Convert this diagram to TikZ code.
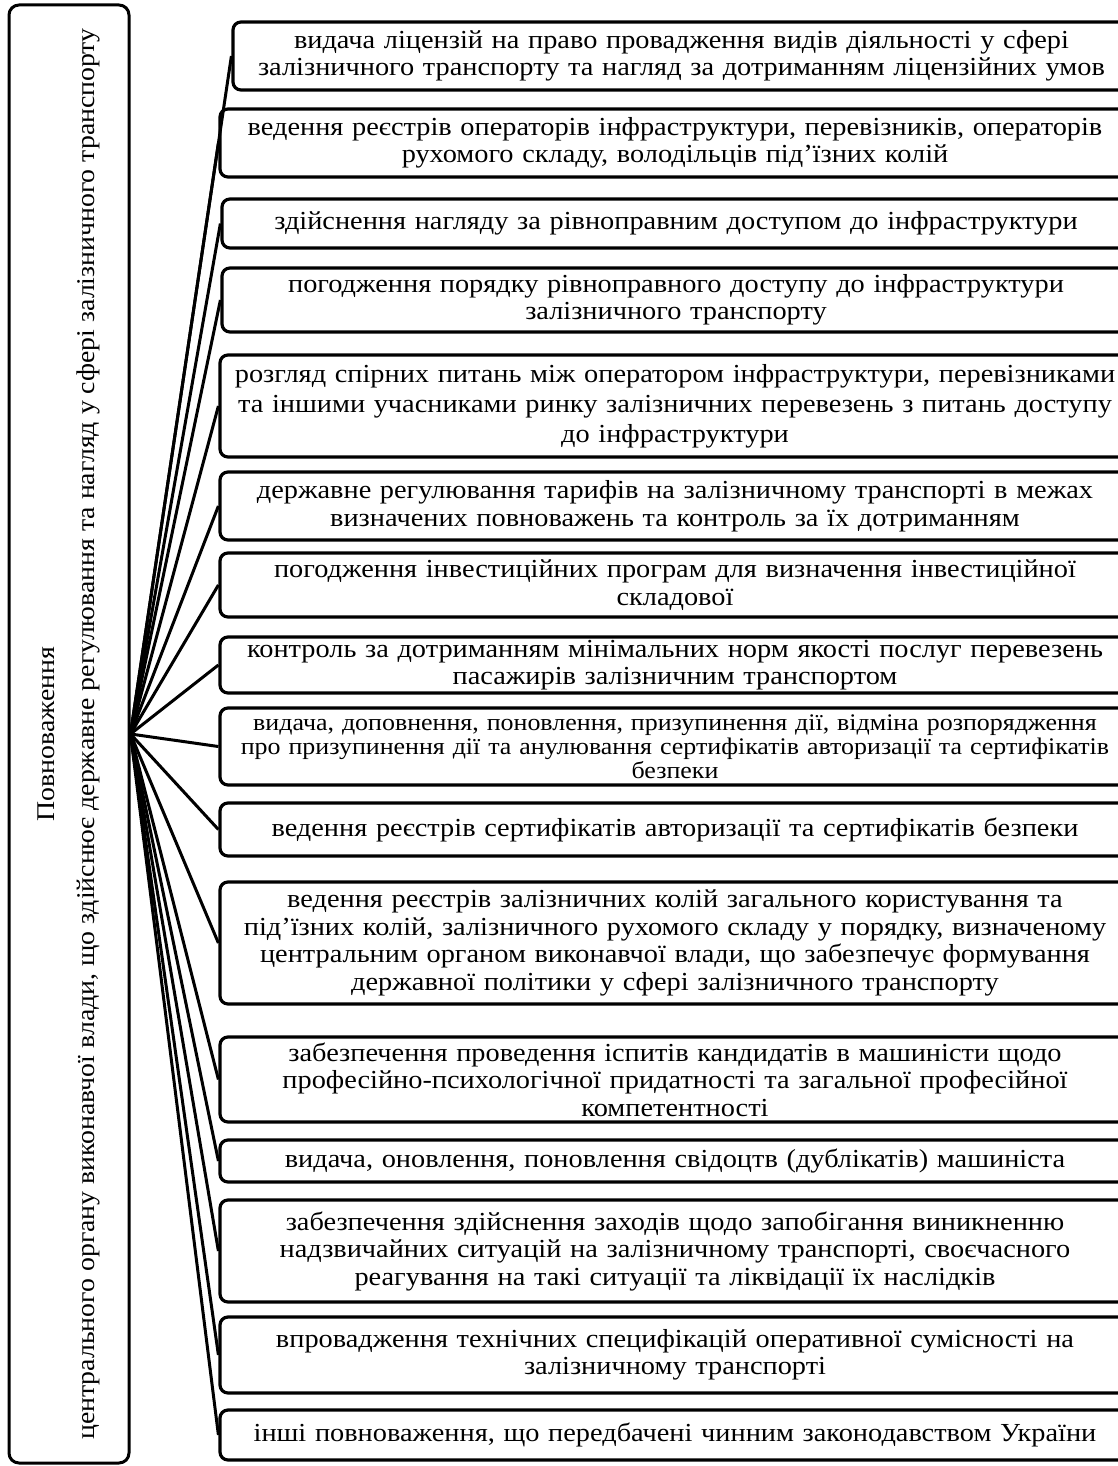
\documentclass[tikz,border=0pt]{standalone}
\usepackage{fontspec}
\setmainfont[FakeStretch=1.09]{Liberation Serif}
\begin{document}
\begin{tikzpicture}[x=1pt,y=-1pt,
  box/.style={draw=black, line width=3.2pt, rounded corners=8pt, align=center,
    inner sep=0pt, font=\fontsize{26}{27.5}\selectfont},
  link/.style={line width=3pt}]
\useasboundingbox (0,0) rectangle (1118,1466);
% left box
\node[draw, line width=3pt, rounded corners=10pt, minimum width=1458pt, minimum height=120pt,
  rotate=90, align=center, inner sep=0pt, font=\fontsize{25.5}{28}\selectfont] (L) at (69,734)
  {Повноваження\\[12pt]центрального органу виконавчої влади, що здійснює державне регулювання та нагляд у сфері залізничного транспорту};
% right boxes: left edge, top, bottom ; right edge 1130
\newcommand{\rbox}[5][]{%
  \node[box, minimum width={1130-#2}, minimum height={#4-#3}, text width={1130-#2-4}, #1]
    (#5) at ({(#2+1130)/2},{(#3+#4)/2})}
\rbox{233}{22}{90}{b1}{видача ліцензій на право провадження видів діяльності у сфері\\залізничного транспорту та нагляд за дотриманням ліцензійних умов};
\rbox{220}{109}{177}{b2}{ведення реєстрів операторів інфраструктури, перевізників, операторів\\рухомого складу, володільців під’їзних колій};
\rbox{222}{199}{248}{b3}{здійснення нагляду за рівноправним доступом до інфраструктури};
\rbox{222}{268}{332}{b4}{погодження порядку рівноправного доступу до інфраструктури\\залізничного транспорту};
\rbox[font=\fontsize{26}{30}\selectfont]{220}{355}{457}{b5}{розгляд спірних питань між оператором інфраструктури, перевізниками\\та іншими учасниками ринку залізничних перевезень з питань доступу\\до інфраструктури};
\rbox{220}{472}{540}{b6}{державне регулювання тарифів на залізничному транспорті в межах\\визначених повноважень та контроль за їх дотриманням};
\rbox{220}{553}{617}{b7}{погодження інвестиційних програм для визначення інвестиційної\\складової};
\rbox{220}{637}{693}{b8}{контроль за дотриманням мінімальних норм якості послуг перевезень\\пасажирів залізничним транспортом};
\rbox[font=\fontsize{23.8}{24}\selectfont]{220}{708}{785}{b9}{видача, доповнення, поновлення, призупинення дії, відміна розпорядження\\про призупинення дії та анулювання сертифікатів авторизації та сертифікатів\\безпеки};
\rbox{220}{803}{856}{b10}{ведення реєстрів сертифікатів авторизації та сертифікатів безпеки};
\rbox{220}{882}{1004}{b11}{ведення реєстрів залізничних колій загального користування та\\під’їзних колій, залізничного рухомого складу у порядку, визначеному\\центральним органом виконавчої влади, що забезпечує формування\\державної політики у сфері залізничного транспорту};
\rbox{220}{1037}{1122}{b12}{забезпечення проведення іспитів кандидатів в машиністи щодо\\професійно-психологічної придатності та загальної професійної\\компетентності};
\rbox{220}{1140}{1182}{b13}{видача, оновлення, поновлення свідоцтв (дублікатів) машиніста};
\rbox{220}{1200}{1302}{b14}{забезпечення здійснення заходів щодо запобігання виникненню\\надзвичайних ситуацій на залізничному транспорті, своєчасного\\реагування на такі ситуації та ліквідації їх наслідків};
\rbox{220}{1317}{1393}{b15}{впровадження технічних специфікацій оперативної сумісності на\\залізничному транспорті};
\rbox{220}{1410}{1460}{b16}{інші повноваження, що передбачені чинним законодавством України};
% connectors
\foreach \i in {1,...,16} \draw[link] (L.south) -- (b\i.west);
\end{tikzpicture}
\end{document}
